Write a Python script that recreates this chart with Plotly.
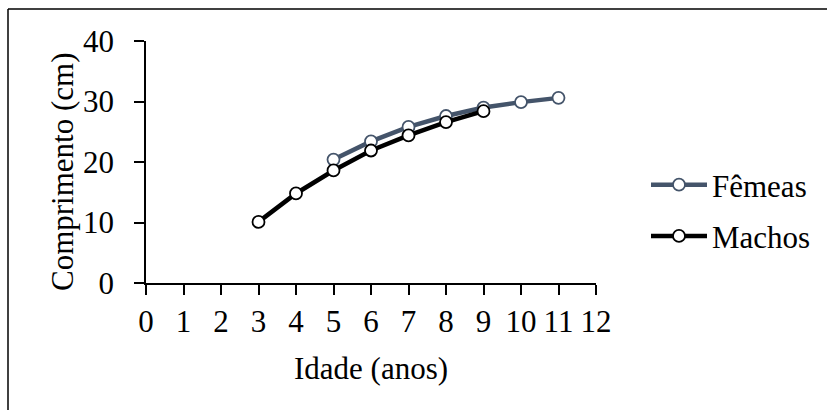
import plotly.graph_objects as go

# Data
idade_femeas = [5, 6, 7, 8, 9, 10, 11]
comp_femeas = [20.4, 23.4, 25.8, 27.6, 29.0, 29.9, 30.6]
idade_machos = [3, 4, 5, 6, 7, 8, 9]
comp_machos = [10.1, 14.8, 18.6, 21.9, 24.4, 26.6, 28.4]
x_ticks = list(range(0, 13))
y_ticks = [0, 10, 20, 30, 40]

FONT = "Liberation Serif"
FS = 31
W, H = 827, 410
ML, MR, MT, MB = 146, 231, 41, 127
PW = W - ML - MR
PH = H - MT - MB

def px_x(p):
    return (p - ML) / PW

def px_y(p):
    return (H - MB - p) / PH

fig = go.Figure()
fig.add_trace(go.Scatter(
    x=idade_femeas, y=comp_femeas, name="Fêmeas", mode="lines+markers",
    line=dict(color="#44546A", width=4.5),
    marker=dict(symbol="circle", size=12, color="white",
                line=dict(color="#44546A", width=1.8)),
    legendgroup="f",
))
fig.add_trace(go.Scatter(
    x=idade_machos, y=comp_machos, name="Machos", mode="lines+markers",
    line=dict(color="black", width=4.5),
    marker=dict(symbol="circle", size=12, color="white",
                line=dict(color="black", width=1.8)),
    legendgroup="m",
))

border = dict(color="black", width=1.5)
fig.update_layout(
    width=W, height=H,
    margin=dict(l=ML, r=MR, t=MT, b=MB, autoexpand=False),
    paper_bgcolor="white", plot_bgcolor="white",
    font=dict(family=FONT, size=FS, color="black"),
    showlegend=True,
    legend=dict(x=px_x(646), y=px_y(158), xanchor="left", yanchor="top",
                font=dict(family=FONT, size=FS, color="black"),
                itemwidth=56, tracegroupgap=8, bgcolor="rgba(0,0,0,0)"),
    xaxis=dict(range=[0, 12], tickvals=x_ticks, ticktext=[str(v) for v in x_ticks],
               showgrid=False, zeroline=False, showline=True, linecolor="black",
               linewidth=1.5, ticks="outside", ticklen=10, tickwidth=1.5,
               tickcolor="black", tickfont=dict(family=FONT, size=FS),
               title=dict(text="Idade (anos)", font=dict(family=FONT, size=FS), standoff=19)),
    yaxis=dict(range=[0, 40], tickvals=y_ticks, showgrid=False, zeroline=False,
               showline=True, linecolor="black", linewidth=1.5, ticks="outside",
               ticklen=10, tickwidth=1.5, tickcolor="black",
               tickfont=dict(family=FONT, size=FS), ticklabelstandoff=14),
    annotations=[dict(text="Comprimento (cm)", textangle=-90, xref="paper", yref="paper",
                      x=px_x(62), y=px_y(172), xanchor="center", yanchor="middle",
                      showarrow=False,
                      font=dict(family=FONT, size=FS, color="black"))],
    shapes=[
        dict(type="line", xref="paper", yref="paper",
             x0=px_x(8), x1=px_x(H + W), y0=px_y(9), y1=px_y(9), line=border),
        dict(type="line", xref="paper", yref="paper",
             x0=px_x(8), x1=px_x(8), y0=px_y(9), y1=px_y(H + 50), line=border),
    ],
)

fig.write_html("out.html")
